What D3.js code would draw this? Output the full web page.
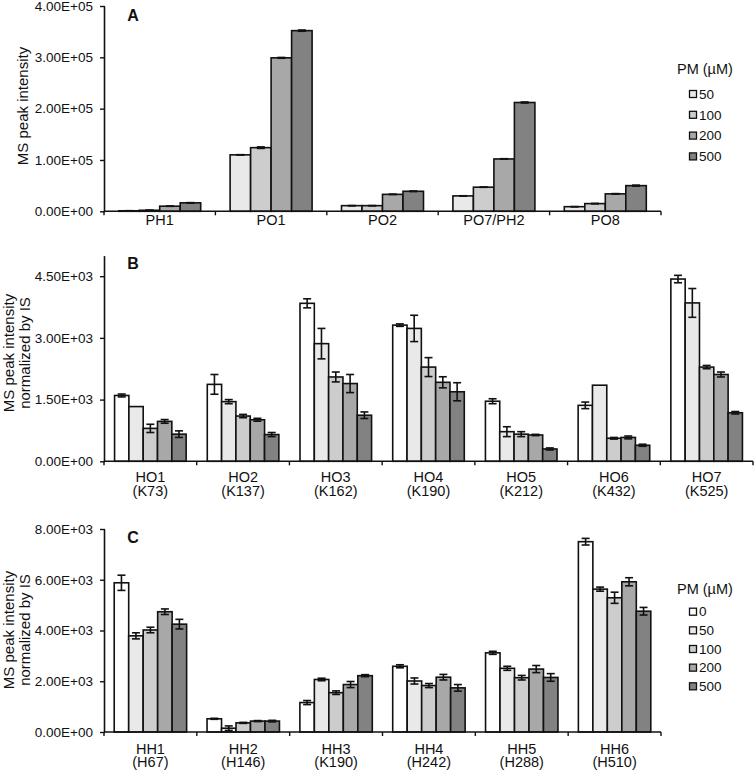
<!DOCTYPE html>
<html>
<head>
<meta charset="utf-8">
<script src="https://cdn.jsdelivr.net/npm/d3@7/dist/d3.min.js"></script>
<style>
  html, body { margin: 0; padding: 0; background: #fff; }
  svg text { font-family: "Liberation Sans", Arial, sans-serif; fill: #111; }
</style>
</head>
<body>
<svg id="chart" width="755" height="771"></svg>
<script>
// ---------------- DATA ----------------
// Panel A
const catsA = ["PH1", "PO1", "PO2", "PO7/PH2", "PO8"];
const seriesA = ["50", "100", "200", "500"];
const A50  = [1000, 110000, 11000, 30000, 9000];
const A100 = [2000, 124000, 11000, 47000, 15000];
const A200 = [10000, 299000, 33000, 102000, 34000];
const A500 = [16500, 352000, 39000, 212000, 50000];
const A50err  = [200, 300, 200, 300, 200];
const A100err = [200, 1500, 200, 300, 400];
const A200err = [300, 800, 300, 500, 500];
const A500err = [400, 1200, 500, 1000, 1000];
const ticksA = [0, 100000, 200000, 300000, 400000];

// Panel B
const catsB = ["HO1", "HO2", "HO3", "HO4", "HO5", "HO6", "HO7"];
const sitesB = ["K73", "K137", "K162", "K190", "K212", "K432", "K525"];
const seriesBC = ["0", "50", "100", "200", "500"];
const B0   = [1600, 1870, 3840, 3310, 1460, 1360, 4430];
const B50  = [1330, 1450, 2860, 3230, 720, 1850, 3850];
const B100 = [800, 1100, 2050, 2290, 660, 560, 2290];
const B200 = [970, 1010, 1890, 1920, 640, 580, 2110];
const B500 = [660, 650, 1120, 1690, 300, 390, 1180];
const B0err   = [35, 240, 110, 30, 60, 80, 90];
const B50err  = [0, 50, 370, 320, 120, 0, 350];
const B100err = [100, 40, 120, 230, 60, 20, 40];
const B200err = [45, 35, 220, 135, 15, 35, 60];
const B500err = [80, 50, 80, 220, 25, 25, 30];
const ticksB = [0, 1500, 3000, 4500];

// Panel C
const catsC = ["HH1", "HH2", "HH3", "HH4", "HH5", "HH6"];
const sitesC = ["H67", "H146", "K190", "H242", "H288", "H510"];
const C0   = [5880, 520, 1160, 2590, 3120, 7500];
const C50  = [3790, 150, 2070, 2010, 2510, 5630];
const C100 = [4020, 360, 1550, 1830, 2140, 5290];
const C200 = [4740, 430, 1870, 2160, 2480, 5920];
const C500 = [4250, 430, 2220, 1740, 2150, 4760];
const C0err   = [300, 20, 80, 60, 60, 130];
const C50err  = [120, 90, 50, 120, 80, 80];
const C100err = [110, 20, 70, 80, 90, 220];
const C200err = [110, 20, 120, 110, 140, 160];
const C500err = [190, 30, 40, 130, 150, 150];
const ticksC = [0, 2000, 4000, 6000, 8000];

const colorMap = { "0": "#ffffff", "50": "#e9e9e9", "100": "#cdcdcd", "200": "#a8a8a8", "500": "#828282" };

// ---------------- DRAW ----------------
const svg = d3.select("#chart");

function sci(v) {
  if (v === 0) return "0.00E+00";
  const e = Math.floor(Math.log10(v) + 1e-9);
  const m = v / Math.pow(10, e);
  return m.toFixed(2) + "E" + (e >= 0 ? "+" : "-") + String(Math.abs(e)).padStart(2, "0");
}

function panel(cfg) {
  const g = svg.append("g");
  const x = d3.scaleBand().domain(cfg.cats).range([cfg.x0, cfg.x1]).padding(0);
  const inner = d3.scaleBand().domain(cfg.series)
    .range([x.bandwidth() * (1 - cfg.groupFrac) / 2, x.bandwidth() * (1 + cfg.groupFrac) / 2]).padding(0);
  const y = d3.scaleLinear().domain([0, cfg.max]).range([cfg.yBottom, cfg.yTop]);

  // bars
  cfg.series.forEach((s, si) => {
    const vals = cfg.values[si];
    cfg.cats.forEach((c, ci) => {
      const bx = x(c) + inner(s);
      const v = vals[ci];
      g.append("rect")
        .attr("x", bx).attr("y", y(v))
        .attr("width", inner.bandwidth()).attr("height", y(0) - y(v))
        .attr("fill", colorMap[s]).attr("stroke", "#111").attr("stroke-width", 1.6);
    });
  });
  // error bars
  cfg.series.forEach((s, si) => {
    const vals = cfg.values[si], errs = cfg.errors[si];
    cfg.cats.forEach((c, ci) => {
      const e = errs[ci];
      if (!e) return;
      const cx = x(c) + inner(s) + inner.bandwidth() / 2;
      const v = vals[ci];
      const lo = Math.max(0, v - e);
      const eg = g.append("g").attr("stroke", "#111").attr("stroke-width", 1.6);
      eg.append("line").attr("x1", cx).attr("x2", cx).attr("y1", y(v + e)).attr("y2", y(lo));
      eg.append("line").attr("x1", cx - 4).attr("x2", cx + 4).attr("y1", y(v + e)).attr("y2", y(v + e));
      eg.append("line").attr("x1", cx - 4).attr("x2", cx + 4).attr("y1", y(lo)).attr("y2", y(lo));
    });
  });

  // y axis
  const yAxis = d3.axisLeft(y).tickValues(cfg.ticks).tickFormat(sci).tickSizeInner(4).tickSizeOuter(0).tickPadding(7);
  const ya = g.append("g").attr("transform", `translate(${cfg.x0},0)`).call(yAxis);
  ya.select(".domain").attr("stroke", "#111").attr("stroke-width", 1.6);
  ya.selectAll(".tick line").attr("stroke", "#111").attr("stroke-width", 1.4).attr("x2", -4).attr("x1", 1);
  ya.selectAll(".tick text").style("font-size", "13.5px").attr("fill", "#111");

  // x axis line + boundary ticks
  g.append("line").attr("x1", cfg.x0).attr("x2", cfg.x1).attr("y1", y(0)).attr("y2", y(0))
    .attr("stroke", "#111").attr("stroke-width", 1.6);
  const bounds = cfg.cats.map(c => x(c)).concat([cfg.x1]);
  bounds.forEach(bx => {
    g.append("line").attr("x1", bx).attr("x2", bx).attr("y1", y(0)).attr("y2", y(0) + 4)
      .attr("stroke", "#111").attr("stroke-width", 1.4);
  });

  // category labels (one text element per category, second line as tspan)
  cfg.cats.forEach((c, ci) => {
    const cx = x(c) + x.bandwidth() / 2;
    const t = g.append("text").attr("text-anchor", "middle").style("font-size", "14.5px");
    t.append("tspan").attr("x", cx).attr("y", cfg.labelY1).attr("dy", "0.35em").text(c);
    if (cfg.sites) {
      t.append("tspan").attr("x", cx).attr("y", cfg.labelY2).attr("dy", "0.35em").text("(" + cfg.sites[ci] + ")");
    }
  });

  // panel letter
  g.append("text").attr("x", 133).attr("y", cfg.letterY).attr("dy", "0.35em")
    .attr("text-anchor", "middle").style("font-size", "16px").style("font-weight", "bold").text(cfg.letter);

  // y title
  const yt = g.append("text").attr("transform", `translate(0,${cfg.yTitleY}) rotate(-90)`)
    .attr("text-anchor", "middle").style("font-size", "15px");
  cfg.yTitle.forEach((t, i) => {
    yt.append("tspan").attr("x", 0).attr("y", cfg.yTitleX[i]).attr("dy", "0.35em").text(t);
  });

  // legend
  if (cfg.legend) {
    const L = cfg.legend;
    g.append("text").attr("x", 677).attr("y", L.titleY).attr("dy", "0.35em")
      .style("font-size", "14.5px").text("PM (\u00b5M)");
    cfg.series.forEach((s, i) => {
      const ly = L.y0 + i * L.step;
      g.append("rect").attr("x", 689.5).attr("y", ly - 3.5).attr("width", 7).attr("height", 7)
        .attr("fill", colorMap[s]).attr("stroke", "#111").attr("stroke-width", 1.3);
      g.append("text").attr("x", 699).attr("y", ly).attr("dy", "0.35em")
        .style("font-size", "13.5px").text(s);
    });
  }
}

panel({
  letter: "A", letterY: 15,
  cats: catsA, series: seriesA,
  values: [A50, A100, A200, A500], errors: [A50err, A100err, A200err, A500err],
  x0: 104, x1: 661, groupFrac: 0.736,
  yTop: 6, yBottom: 211.3, max: 400000, ticks: ticksA,
  labelY1: 220,
  yTitle: ["MS peak intensity"], yTitleX: [23], yTitleY: 106,
  legend: { titleY: 69, y0: 94, step: 20.8 }
});

panel({
  letter: "B", letterY: 263,
  cats: catsB, sites: sitesB, series: seriesBC,
  values: [B0, B50, B100, B200, B500], errors: [B0err, B50err, B100err, B200err, B500err],
  x0: 104, x1: 753, groupFrac: 0.772,
  yTop: 255.6, yBottom: 461.3, max: 5000, ticks: ticksB,
  labelY1: 477, labelY2: 490.5,
  yTitle: ["MS peak intensity", "normalized by IS"], yTitleX: [8.5, 25], yTitleY: 353
});

panel({
  letter: "C", letterY: 537,
  cats: catsC, sites: sitesC, series: seriesBC,
  values: [C0, C50, C100, C200, C500], errors: [C0err, C50err, C100err, C200err, C500err],
  x0: 104, x1: 661, groupFrac: 0.78,
  yTop: 529, yBottom: 732, max: 8000, ticks: ticksC,
  labelY1: 748.5, labelY2: 762,
  yTitle: ["MS peak intensity", "normalized by IS"], yTitleX: [8.5, 25], yTitleY: 630,
  legend: { titleY: 589, y0: 611.7, step: 18.65 }
});
</script>
</body>
</html>
